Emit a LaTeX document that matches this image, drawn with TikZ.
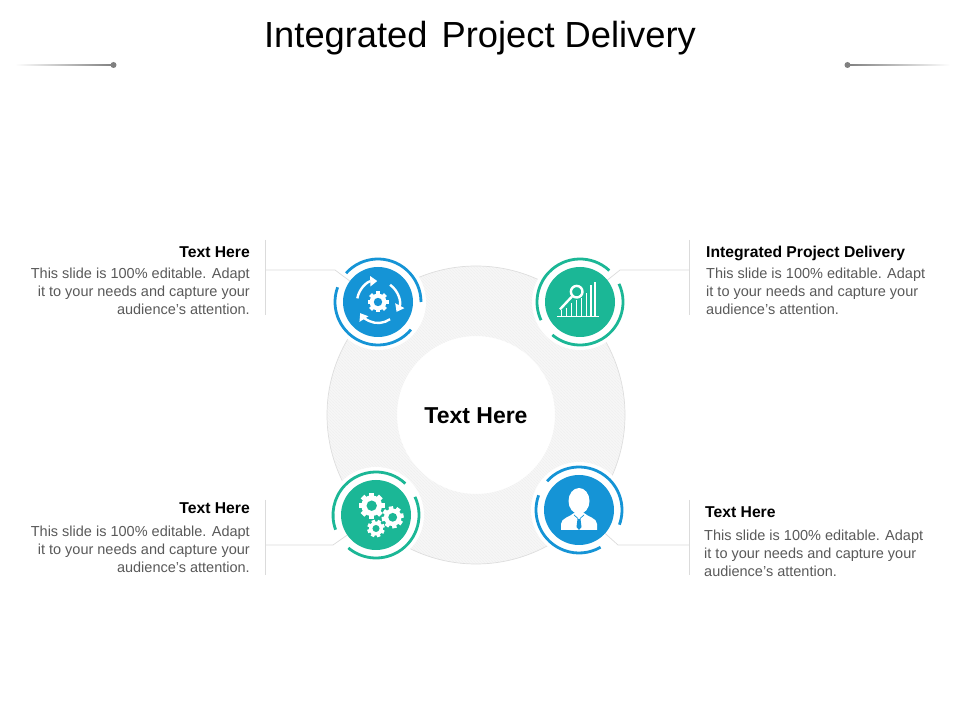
\documentclass[tikz,border=0pt]{standalone}
\usepackage{fontspec}
\setmainfont{Liberation Sans}
\usetikzlibrary{arrows.meta,patterns,positioning}
\definecolor{iconblue}{HTML}{1594D6}
\definecolor{iconteal}{HTML}{1BB796}
\newcommand{\gearat}[5]{
    \foreach \a in {0,45,...,315} {
        \fill[white, shift={(#1,#2)}, rotate=\a+#5] (-.2*#3,.6*#3) rectangle (.2*#3,#3);
    }
    \fill[white] (#1,#2) circle ({.8*#3});
    \fill[#4] (#1,#2) circle ({.4*#3});
}
\begin{document}
\begin{tikzpicture}[x=1pt,y=1pt]
            \tikzset{
                disc/.style={circle, minimum size=70pt, inner sep=0pt, fill=#1},
                halo/.style={circle, minimum size=96pt, inner sep=0pt, fill=white},
                arcline/.style={line width=2.8pt, draw=#1},
                leader/.style={draw=black!14, line width=.7pt},
                icon/.style={draw=white, line width=2.4pt},
                headL/.style={font=\fontsize{15.7}{18}\selectfont\bfseries, inner sep=0pt, text depth=3.3pt, anchor=base west},
                headR/.style={font=\fontsize{15.7}{18}\selectfont\bfseries, inner sep=0pt, text depth=3.3pt, anchor=base east},
                bodyL/.style={font=\fontsize{14.5}{17.7}\selectfont, text=black!65, inner sep=0pt, align=left},
                bodyR/.style={font=\fontsize{14.5}{17.7}\selectfont, text=black!65, inner sep=0pt, align=right}
            }
            \useasboundingbox (0,0) rectangle (960,720);
            \node[font=\fontsize{36.3}{42}\selectfont, inner sep=0pt] (title) at (480,682) {Integrated\hspace{4pt} Project Delivery};
            \coordinate (fadeL) at (15,655);
            \coordinate (fadeR) at (950,655);
            \node[circle, fill=black!50, minimum size=6pt, inner sep=0pt] (dotL) at (113.5,655) {};
            \node[circle, fill=black!50, minimum size=6pt, inner sep=0pt] (dotR) at (847.5,655) {};
            \shade[left color=white, right color=black!50] ([yshift=-.35pt]fadeL) rectangle ([yshift=.35pt]dotL.center);
            \shade[left color=black!50, right color=white] ([yshift=-.35pt]dotR.center) rectangle ([yshift=.35pt]fadeR);

            \path[fill=black!3, even odd rule] (476,305) circle (149) circle (79);
            \path[pattern=north west lines, pattern color=black!6, even odd rule] (476,305) circle (149) circle (79);
            \draw[black!13, line width=.7pt] (476,305) circle (149);
            \node[font=\fontsize{23}{27}\selectfont\bfseries, inner sep=0pt] (center) at (476,304) {Text Here};

            \node[halo] (haloA) at (378,418) {};
            \node[halo] (haloB) at (580,418) {};
            \node[halo] (haloC) at (376,205) {};
            \node[halo] (haloD) at (579,210) {};

            \node[headR] (headA) at (250,462.35) {Text Here};
            \node[bodyR, below=6.85pt of headA.south east, anchor=north east] (bodyA) {This slide is 100\% editable.  Adapt\\it to your needs and capture your\\audience's attention.};
            \node[headL] (headB) at (706,462.35) {Integrated Project Delivery};
            \node[bodyL, below=6.85pt of headB.south west, anchor=north west] (bodyB) {This slide is 100\% editable.  Adapt\\it to your needs and capture your\\audience's attention.};
            \node[headR] (headC) at (250,206.35) {Text Here};
            \node[bodyR, below=8.85pt of headC.south east, anchor=north east] (bodyC) {This slide is 100\% editable.  Adapt\\it to your needs and capture your\\audience's attention.};
            \node[headL] (headD) at (705,202.35) {Text Here};
            \node[bodyL, below=8.85pt of headD.south west, anchor=north west, xshift=-1pt] (bodyD) {This slide is 100\% editable.  Adapt\\it to your needs and capture your\\audience's attention.};

            \draw[leader] (265,480) coordinate (topA) -- (265,405) coordinate (botA);
            \draw[leader] (689,480) coordinate (topB) -- (689,405) coordinate (botB);
            \draw[leader] (265,220) coordinate (topC) -- (265,145) coordinate (botC);
            \draw[leader] (689,220) coordinate (topD) -- (689,145) coordinate (botD);
            \draw[leader] (265,450) coordinate (startA) -- (335,450) coordinate (kneeA) -- (haloA.center);
            \draw[leader] (689,450) coordinate (startB) -- (620,450) coordinate (kneeB) -- (haloB.center);
            \draw[leader] (265,175) coordinate (startC) -- (333,175) coordinate (kneeC) -- (haloC.center);
            \draw[leader] (689,175) coordinate (startD) -- (618,175) coordinate (kneeD) -- (haloD.center);

            \node[disc=iconblue] (discA) at (haloA) {};
            \node[disc=iconteal] (discB) at (haloB) {};
            \node[disc=iconteal] (discC) at (haloC) {};
            \node[disc=iconblue] (discD) at (haloD) {};

            \draw[arcline=iconblue] ([shift={(138:43)}]discA.center) arc (138:0:43);
            \draw[arcline=iconblue] ([shift={(160:43)}]discA.center) arc (160:320:43);
            \draw[arcline=iconteal] ([shift={(47:43)}]discB.center) arc (47:205:43);
            \draw[arcline=iconteal] ([shift={(25:43)}]discB.center) arc (25:-130:43);
            \draw[arcline=iconteal] ([shift={(47:43)}]discC.center) arc (47:200:43);
            \draw[arcline=iconteal] ([shift={(25:43)}]discC.center) arc (25:-130:43);
            \draw[arcline=iconblue] ([shift={(138:43)}]discD.center) arc (138:-20:43);
            \draw[arcline=iconblue] ([shift={(160:43)}]discD.center) arc (160:300:43);

            \draw[icon, -{Triangle[length=7pt,width=10pt]}] ([shift={(170:21)}]discA.center) arc (170:92:21);
            \draw[icon, -{Triangle[length=7pt,width=10pt]}] ([shift={(55:21)}]discA.center) arc (55:-28:21);
            \draw[icon, -{Triangle[length=7pt,width=10pt]}] ([shift={(-55:21)}]discA.center) arc (-55:-148:21);
            \gearat{378}{418}{10.5}{iconblue}{0}

            \foreach \x/\y in {561.7/410, 566.7/411.7, 571.7/416.7, 576.7/420, 581.7/421.7, 586.7/426.7, 591/435, 595/437.7} {
                \draw[white, line width=1.5pt] (\x,403.3) -- (\x,\y);
            }
            \draw[white, line width=1.6pt] (557.3,403.3) -- (599,403.3);
            \draw[icon] (572,423.5) -- (560,410.7);
            \draw[icon, fill=iconteal] (576.7,428.3) circle (5.8);

            \gearat{371.7}{214.3}{13}{iconteal}{0}
            \gearat{392.7}{202.7}{11}{iconteal}{10}
            \gearat{376}{191.5}{8.8}{iconteal}{20}

            \fill[white] (579,219) ellipse (10.5 and 13);
            \fill[white] (561,190) -- (561,196) .. controls (561,202) and (570,203) .. (574,207) -- (584,207) .. controls (588,203) and (597,202) .. (597,196) -- (597,190) -- cycle;
            \fill[iconblue] (577.5,201) -- (580.5,201) -- (581.5,193) -- (579,190) -- (576.5,193) -- cycle;
            \draw[iconblue, line width=.7pt] (574,205) -- (578,201.5);
            \draw[iconblue, line width=.7pt] (584,205) -- (580,201.5);
        \end{tikzpicture}
\end{document}
